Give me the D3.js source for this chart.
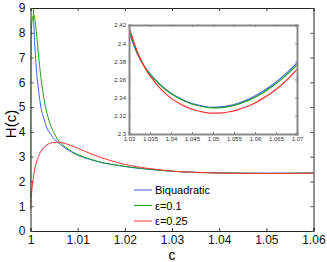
<!DOCTYPE html>
<html>
<head>
<meta charset="utf-8">
<script src="https://cdn.jsdelivr.net/npm/d3@7"></script>
<style>
  body { margin: 0; background: #fff; }
  text { font-family: "Liberation Sans", Arial, sans-serif; }
</style>
</head>
<body>
<div id="main"></div>
<script>
// main panel
const biqC = [1.0004, 1.0006, 1.0008, 1.001, 1.0013, 1.0017, 1.0022, 1.0028, 1.0035, 1.0043, 1.005, 1.0058, 1.0068, 1.008, 1.0092, 1.0105, 1.012, 1.0135, 1.015, 1.017, 1.019, 1.0215, 1.025, 1.03, 1.035, 1.04, 1.045, 1.05, 1.055, 1.06]
const biqH = [10.5, 9.0, 7.9, 7.2, 6.4, 5.7, 5.0, 4.55, 4.15, 3.9, 3.72, 3.58, 3.42, 3.27, 3.13, 3.02, 2.92, 2.84, 2.76, 2.69, 2.63, 2.56, 2.49, 2.412, 2.3665, 2.345, 2.3343, 2.3296, 2.3325, 2.3418]

const e1C = [1.0, 1.00002, 1.00006, 1.0002, 1.0005, 1.00074, 1.001, 1.0013, 1.0017, 1.0022, 1.0028, 1.0035, 1.0043, 1.005, 1.0058, 1.0068, 1.008, 1.0092, 1.0105, 1.012, 1.0135, 1.015, 1.017, 1.019, 1.0215, 1.025, 1.03, 1.035, 1.04, 1.045, 1.05, 1.055, 1.06]
const e1H = [0.9, 4.0, 7.0, 8.2, 8.65, 8.72, 8.45, 7.9, 7.1, 6.2, 5.4, 4.75, 4.25, 3.95, 3.68, 3.48, 3.31, 3.16, 3.05, 2.94, 2.85, 2.77, 2.7, 2.64, 2.57, 2.495, 2.4145, 2.3664, 2.3446, 2.3332, 2.3287, 2.3316, 2.3405]

const e2C = [1.0, 1.0002, 1.0004, 1.0006, 1.0009, 1.0013, 1.0018, 1.0024, 1.0031, 1.0039, 1.0047, 1.0055, 1.0064, 1.0074, 1.0086, 1.01, 1.0115, 1.013, 1.0147, 1.0165, 1.0185, 1.021, 1.024, 1.027, 1.03, 1.035, 1.04, 1.045, 1.05, 1.055, 1.06]
const e2H = [0.85, 1.45, 1.85, 2.15, 2.5, 2.8, 3.06, 3.27, 3.42, 3.52, 3.57, 3.585, 3.57, 3.53, 3.45, 3.34, 3.22, 3.1, 2.98, 2.87, 2.76, 2.65, 2.55, 2.48, 2.418, 2.364, 2.3395, 2.3272, 2.3229, 2.3255, 2.3342]

// inset panel
const inC = [1.03, 1.032, 1.034, 1.036, 1.038, 1.04, 1.042, 1.044, 1.046, 1.048, 1.05, 1.052, 1.054, 1.056, 1.058, 1.06, 1.062, 1.064, 1.066, 1.068, 1.07]
const inBiq = [2.412, 2.388, 2.372, 2.361, 2.352, 2.345, 2.3395, 2.3353, 2.3323, 2.3303, 2.3293, 2.3298, 2.3313, 2.3338, 2.3373, 2.3418, 2.3473, 2.3537, 2.361, 2.3692, 2.3783]
const inE1 = [2.4145, 2.389, 2.372, 2.3608, 2.3517, 2.3446, 2.339, 2.3347, 2.3317, 2.3297, 2.3287, 2.3291, 2.3305, 2.3329, 2.3362, 2.3405, 2.3458, 2.352, 2.359, 2.367, 2.376]
const inE2 = [2.418, 2.3905, 2.371, 2.358, 2.3475, 2.3395, 2.3335, 2.329, 2.3259, 2.3239, 2.3229, 2.3232, 2.3245, 2.3268, 2.33, 2.3342, 2.3395, 2.3457, 2.3529, 2.3614, 2.3712]

const xTicks = [1, 1.01, 1.02, 1.03, 1.04, 1.05, 1.06]
const xTickLabels = ["1", "1.01", "1.02", "1.03", "1.04", "1.05", "1.06"]
const yTicks = [0, 1, 2, 3, 4, 5, 6, 7, 8, 9]
const inXTicks = [1.03, 1.035, 1.04, 1.045, 1.05, 1.055, 1.06, 1.065, 1.07]
const inYTicks = [2.3, 2.32, 2.34, 2.36, 2.38, 2.4, 2.42]

const seriesNames = ["Biquadratic", "\u03b5=0.1", "\u03b5=0.25"]
const colors = ["#4060ff", "#20a020", "#ff3030"]

const W = 327, H = 262
const svg = d3.select("#main").append("svg").attr("width", W).attr("height", H)

const x = d3.scaleLinear().domain([1, 1.06]).range([30.5, 313.5])
const y = d3.scaleLinear().domain([0, 9]).range([231, 8])

svg.append("clipPath").attr("id", "clipMain")
  .append("rect").attr("x", 30.5).attr("y", 8).attr("width", 283).attr("height", 223)

function zip(cs, hs) { return cs.map((c, i) => [c, hs[i]]) }

const line = d3.line().x(d => x(d[0])).y(d => y(d[1])).curve(d3.curveMonotoneX)
const mainSeries = [zip(biqC, biqH), zip(e1C, e1H), zip(e2C, e2H)]
const gMain = svg.append("g").attr("clip-path", "url(#clipMain)")
mainSeries.forEach((s, i) => {
  gMain.append("path").attr("d", line(s))
    .attr("fill", "none").attr("stroke", colors[i]).attr("stroke-width", 1)
})

// main axes, ticks inward, box all round
svg.append("g").attr("transform", "translate(0,231)")
  .call(d3.axisBottom(x).tickValues(xTicks).tickFormat((d, i) => xTickLabels[i]).tickSize(-3).tickPadding(4))
svg.append("g").attr("transform", "translate(0,8)")
  .call(d3.axisTop(x).tickValues(xTicks).tickFormat("").tickSize(-3))
svg.append("g").attr("transform", "translate(30.5,0)")
  .call(d3.axisLeft(y).tickValues(yTicks).tickFormat(d3.format("d")).tickSize(-3).tickPadding(5))
svg.append("g").attr("transform", "translate(313.5,0)")
  .call(d3.axisRight(y).tickValues(yTicks).tickFormat("").tickSize(-3))
svg.selectAll(".domain").attr("stroke", "#222")
svg.selectAll(".tick line").attr("stroke", "#444")
svg.selectAll(".tick text").style("font-size", "12px").attr("fill", "#111")

svg.append("text").attr("x", 172).attr("y", 260).attr("text-anchor", "middle")
  .style("font-size", "14px").text("c")
svg.append("text").attr("transform", "translate(16,124) rotate(-90)").attr("text-anchor", "middle")
  .style("font-size", "15px").text("H(c)")

// legend
const leg = svg.append("g")
seriesNames.forEach((n, i) => {
  const ly = 190 + i * 15.5
  leg.append("line").attr("x1", 134).attr("x2", 152).attr("y1", ly).attr("y2", ly)
    .attr("stroke", i === 0 ? "#9aaaf8" : colors[i]).attr("stroke-width", i === 0 ? 2 : 1)
  leg.append("text").attr("x", 155).attr("y", ly + 4).style("font-size", "11px").text(n)
})

// inset
const ix = d3.scaleLinear().domain([1.03, 1.07]).range([129, 297])
const iy = d3.scaleLinear().domain([2.3, 2.42]).range([134, 25])
svg.append("rect").attr("x", 129).attr("y", 25).attr("width", 168).attr("height", 109).attr("fill", "#fff")
svg.append("clipPath").attr("id", "clipIn")
  .append("rect").attr("x", 129).attr("y", 25).attr("width", 168).attr("height", 109)
const iline = d3.line().x(d => ix(d[0])).y(d => iy(d[1])).curve(d3.curveMonotoneX)
const gIn = svg.append("g").attr("clip-path", "url(#clipIn)")
;[inBiq, inE1, inE2].forEach((s, i) => {
  gIn.append("path").attr("d", iline(zip(inC, s)))
    .attr("fill", "none").attr("stroke", colors[i]).attr("stroke-width", 1.2)
})

const ins = svg.append("g").attr("class", "inset")
ins.append("g").attr("transform", "translate(0,134)")
  .call(d3.axisBottom(ix).tickValues(inXTicks).tickFormat(d3.format("")).tickSize(-2).tickPadding(3))
ins.append("g").attr("transform", "translate(0,25)")
  .call(d3.axisTop(ix).tickValues(inXTicks).tickFormat("").tickSize(-2))
ins.append("g").attr("transform", "translate(129,0)")
  .call(d3.axisLeft(iy).tickValues(inYTicks).tickFormat(d3.format("")).tickSize(-2).tickPadding(3))
ins.append("g").attr("transform", "translate(297,0)")
  .call(d3.axisRight(iy).tickValues(inYTicks).tickFormat("").tickSize(-2))
ins.selectAll(".domain").attr("stroke", "#888").attr("stroke-width", 2)
ins.selectAll(".tick line").attr("stroke", "#888")
ins.selectAll(".tick text").style("font-size", "6px").attr("fill", "#333")
</script>
</body>
</html>
